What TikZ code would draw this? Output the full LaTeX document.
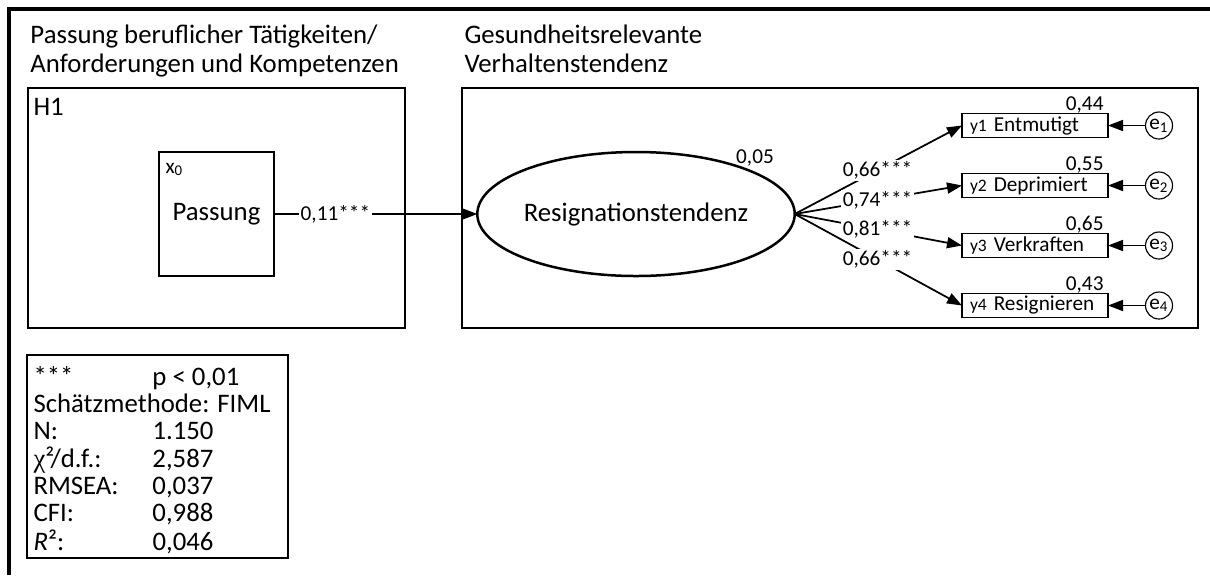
\documentclass[tikz,border=0pt]{standalone}
\usepackage{fontspec}
\setmainfont{Carlito}
\newfontfamily\greekfont{Liberation Serif}
\usetikzlibrary{shapes.geometric,arrows.meta}
\begin{document}
\begin{tikzpicture}[x=0.4pt,y=-0.4pt,
  bigfont/.style={font=\fontsize{10.7}{11.6}\selectfont},
  smallfont/.style={font=\fontsize{8.5}{9}\selectfont},
  frame/.style={draw, line width=1.1pt, inner sep=0pt, outer sep=0pt, anchor=north west},
  arr/.style={line width=0.7pt, -{Triangle[length=6pt,width=4.4pt]}},
  indbox/.style={draw, line width=0.5pt, minimum width=58.4pt, minimum height=9.6pt,
    text width=52pt, align=left, inner xsep=3.2pt, inner ysep=0pt, outer sep=0pt,
    smallfont},
  errc/.style={draw, circle, line width=0.45pt, minimum size=10.8pt, inner sep=0pt, outer sep=0pt, smallfont},
  coef/.style={smallfont, fill=white, inner sep=0.6pt},
  txt/.style={inner sep=0pt, anchor=base west},
]
\useasboundingbox (0,0) rectangle (1210,575);
% outer frame
\draw[line width=1.4pt] (9,575) -- (9,9) -- (1210,9);
% titles
\node[txt, bigfont] (t1) at (30,43) {\begin{tabular}[t]{@{}l@{}}Passung beruflicher Tätigkeiten/\\Anforderungen und Kompetenzen\end{tabular}};
\node[txt, bigfont] (t2) at (464,43) {\begin{tabular}[t]{@{}l@{}}Gesundheitsrelevante\\Verhaltenstendenz\end{tabular}};
% frames
\node[frame, minimum width=150.8pt, minimum height=96pt] (h1box) at (28,88) {};
\node[frame, minimum width=294.4pt, minimum height=96pt] (rbox) at (462,88) {};
\node[txt, bigfont] (h1) at (33,115) {H1};
% exogenous
\node[draw, line width=0.5pt, minimum width=46pt, minimum height=49.6pt, inner sep=0pt, outer sep=0pt, bigfont] (x0box) at (216.5,214) {Passung};
\node[txt, smallfont] (x0) at (165,173) {x\textsubscript{0}};
% latent
\node[ellipse, draw, line width=1pt, minimum width=109.6pt, minimum height=49.6pt, inner sep=0pt, outer sep=0pt, bigfont] (lat) at (636,214) {Resignationstendenz};
\node[smallfont, inner sep=0pt] (r2lat) at (755,158) {0,05};
\draw[arr] (x0box) -- node[coef, pos=0.302] {0,11***} (lat);
% indicators
\node[indbox] (y1) at (1035,125.5) {{\fontsize{7}{8}\selectfont y1}\hspace{2.8pt}Entmutigt};
\node[indbox] (y2) at (1035,185.5) {{\fontsize{7}{8}\selectfont y2}\hspace{2.8pt}Deprimiert};
\node[indbox] (y3) at (1035,245.5) {{\fontsize{7}{8}\selectfont y3}\hspace{2.8pt}Verkraften};
\node[indbox] (y4) at (1035,305.5) {{\fontsize{7}{8}\selectfont y4}\hspace{2.8pt}Resignieren};
\node[txt, smallfont, anchor=base east] (v1) at (1104,110) {0,44};
\node[txt, smallfont, anchor=base east] (v2) at (1104,170) {0,55};
\node[txt, smallfont, anchor=base east] (v3) at (1104,230) {0,65};
\node[txt, smallfont, anchor=base east] (v4) at (1104,290) {0,43};
\node[errc] (e1) at (1159,125.5) {e\textsubscript{1}};
\node[errc] (e2) at (1159,185.5) {e\textsubscript{2}};
\node[errc] (e3) at (1159,245.5) {e\textsubscript{3}};
\node[errc] (e4) at (1159,305.5) {e\textsubscript{4}};
\draw[arr] (e1) -- (y1);
\draw[arr] (e2) -- (y2);
\draw[arr] (e3) -- (y3);
\draw[arr] (e4) -- (y4);
% loadings
\draw[arr] (lat.east) -- node[coef, pos=0.495] {0,66***} (y1.west);
\draw[arr] (lat.east) -- node[coef, pos=0.495] {0,74***} (y2.west);
\draw[arr] (lat.east) -- node[coef, pos=0.495] {0,81***} (y3.west);
\draw[arr] (lat.east) -- node[coef, pos=0.495] {0,66***} (y4.west);
% legend
\node[draw, line width=0.5pt, anchor=north west, minimum width=104.4pt, minimum height=81.2pt, inner sep=0pt, outer sep=0pt] (legbox) at (27,355) {};
\node[txt, bigfont] (leg) at (33,385) {\fontsize{10.7}{10.8}\selectfont\begin{tabular}[t]{@{}p{47.6pt}@{}l@{}}
***&p < 0,01\\
\multicolumn{2}{@{}l@{}}{Schätzmethode: FIML}\\
N:&1.150\\
{\greekfont χ}²/d.f.:&2,587\\
RMSEA:&0,037\\
CFI:&0,988\\
\textit{R}²:&0,046
\end{tabular}};
\end{tikzpicture}
\end{document}
